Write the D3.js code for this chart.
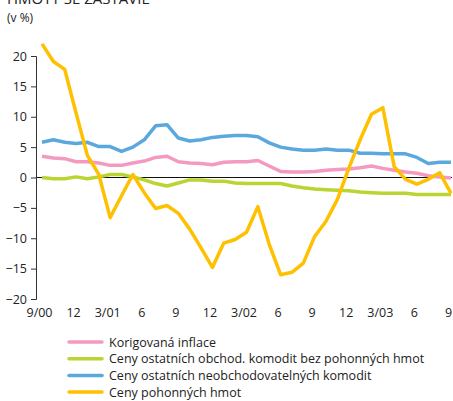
<!DOCTYPE html>
<html><head><meta charset="utf-8">
<script src="https://cdn.jsdelivr.net/npm/d3@7"></script>
<style>body{margin:0;background:#fff}svg{display:block}text{font-family:"Open Sans",sans-serif;fill:#222}</style>
</head><body>
<script>
const months = d3.range(37); // 9/2000 .. 9/2003 monthly
const tickIdx = [0,3,6,9,12,15,18,21,24,27,30,33,36];
const tickLabels = ["9/00","12","3/01","6","9","12","3/02","6","9","12","3/03","6","9"];
const yTicks = [20,15,10,5,0,-5,-10,-15,-20];

const korigovana = [3.5,3.2,3.1,2.6,2.6,2.4,2.0,2.0,2.4,2.7,3.3,3.5,2.6,2.4,2.3,2.1,2.5,2.6,2.6,2.8,1.9,1.0,0.9,0.9,1.0,1.2,1.3,1.4,1.6,1.9,1.5,1.2,0.9,0.7,0.3,0.1,-0.1];
const obchod = [0,-0.2,-0.2,0.1,-0.2,0.1,0.5,0.5,0.1,-0.4,-1.0,-1.4,-0.9,-0.4,-0.4,-0.6,-0.6,-0.9,-1.0,-1.0,-1.0,-1.0,-1.4,-1.7,-1.9,-2.0,-2.1,-2.2,-2.4,-2.5,-2.6,-2.6,-2.6,-2.8,-2.8,-2.8,-2.8];
const neobchod = [5.8,6.2,5.8,5.6,5.8,5.1,5.1,4.3,5.0,6.2,8.5,8.7,6.5,6.0,6.2,6.6,6.8,6.9,6.9,6.7,5.7,5.0,4.7,4.5,4.5,4.7,4.5,4.5,4.0,4.0,3.9,3.9,3.9,3.3,2.3,2.5,2.5];
const pohonne = [22,19.1,17.8,10.6,3.6,0.5,-6.6,-3.0,0.5,-2.5,-5.1,-4.6,-5.9,-8.5,-11.6,-14.8,-10.8,-10.2,-9.0,-4.8,-11,-16,-15.6,-14.1,-9.7,-7.2,-3.6,1.5,6.2,10.4,11.5,1.8,-0.3,-1.1,-0.3,0.8,-2.6];

const seriesNames = ["Korigovaná inflace","Ceny ostatních obchod. komodit bez pohonných hmot","Ceny ostatních neobchodovatelných komodit","Ceny pohonných hmot"];
const seriesColors = ["#F49AC1","#BAD532","#5BA8DE","#FFC000"];
const seriesData = [korigovana, obchod, neobchod, pohonne];

const W = 453, H = 401;
const svg = d3.select("body").append("svg").attr("width", W).attr("height", H);

const x = d3.scaleLinear().domain([0,36]).range([42,451]);
const y = d3.scaleLinear().domain([-20,20]).range([299,56]);

// title (partially cut) and unit
svg.append("text").attr("x",7).attr("y",4).attr("font-size",15).text("HMOTY SE ZASTAVIL");
svg.append("text").attr("x",7).attr("y",22).attr("font-size",12).text("(v %)");

// zero line
svg.append("line").attr("x1",36).attr("x2",452).attr("y1",y(0)).attr("y2",y(0)).attr("stroke","#111").attr("stroke-width",1);

// y axis
const yAxis = d3.axisLeft(y).tickValues(yTicks).tickSize(5).tickPadding(4).tickFormat(d3.format("d"));
const gy = svg.append("g").attr("transform","translate(36,0)").call(yAxis);
gy.select(".domain").attr("stroke","#333");
gy.selectAll(".tick line").attr("stroke","#333");
gy.selectAll("text").attr("font-size",12.5).style("font-family","'Open Sans',sans-serif").attr("fill","#222");

// x labels (centred slightly left of the data points, as in the reference)
const xAxis = d3.axisBottom(x).tickValues(tickIdx).tickSize(0).tickPadding(0).tickFormat((d,i)=>tickLabels[i]);
const gx = svg.append("g").attr("transform","translate(-3,308)").call(xAxis);
gx.select(".domain").remove();
gx.selectAll("text").attr("font-size",12.5).style("font-family","'Open Sans',sans-serif").attr("fill","#222");

// lines
const line = d3.line().x((d,i)=>x(months[i])).y(d=>y(d));
seriesData.forEach((s,k)=>{
  svg.append("path").datum(s).attr("d",line).attr("fill","none")
    .attr("stroke",seriesColors[k]).attr("stroke-width",3.5).attr("stroke-linejoin","round");
});

// legend
seriesNames.forEach((n,k)=>{
  const yy = 342 + k*16.7;
  svg.append("line").attr("x1",69).attr("x2",102).attr("y1",yy).attr("y2",yy)
    .attr("stroke",seriesColors[k]).attr("stroke-width",3.5).attr("stroke-linecap","round");
  svg.append("text").attr("x",109).attr("y",yy+4.5).attr("font-size",12.5).text(n);
});
</script>
</body></html>
